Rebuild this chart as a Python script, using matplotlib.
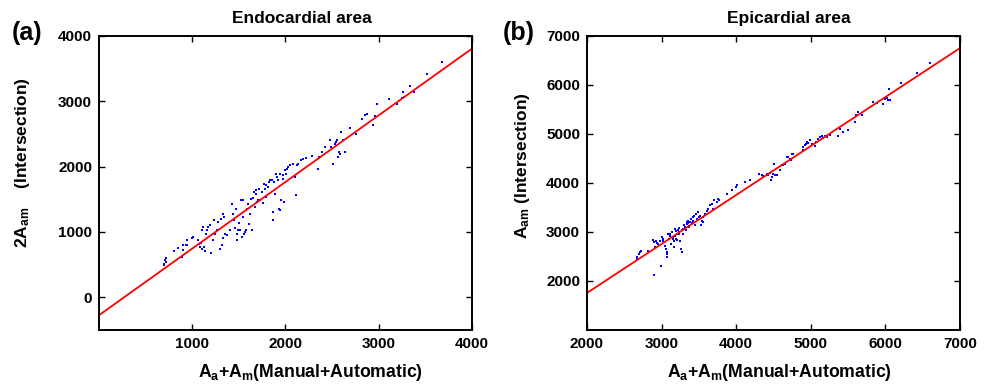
import matplotlib
matplotlib.use("Agg")
import matplotlib.pyplot as plt
import numpy as np

plt.rcParams['font.family'] = ['Liberation Sans', 'DejaVu Sans']
plt.rcParams['font.weight'] = 'bold'
plt.rcParams['mathtext.fontset'] = 'custom'
plt.rcParams['mathtext.rm'] = 'Liberation Sans:bold'
plt.rcParams['mathtext.bf'] = 'Liberation Sans:bold'
plt.rcParams['mathtext.it'] = 'Liberation Sans:bold'
plt.rcParams['mathtext.default'] = 'bf'

# ---- Panel (a): Endocardial area ----
endo_x = [700, 707, 714, 700, 714, 807, 850, 893, 896, 904, 929, 939, 946, 993, 1011,
          1064, 1071, 1082, 1093, 1100, 1107, 1118, 1125, 1136, 1143, 1154, 1171, 1196,
          1189, 1225, 1232, 1243, 1261, 1279, 1296, 1304, 1314, 1325, 1332, 1339, 1350,
          1368, 1404, 1429, 1439, 1450, 1461, 1468, 1475, 1482, 1493, 1504, 1511, 1518,
          1529, 1539, 1546, 1557, 1564, 1575, 1582, 1600, 1611, 1618, 1625, 1636, 1643,
          1654, 1661, 1671, 1682, 1689, 1696, 1707, 1718, 1725, 1743, 1761, 1768, 1779,
          1786, 1796, 1814, 1825, 1839, 1850, 1861, 1868, 1875, 1886, 1896, 1904, 1921,
          1932, 1939, 1946, 1957, 1968, 1975, 1982, 1993, 2004, 2018, 2029, 2046, 2082,
          2100, 2111, 2118, 2136, 2164, 2189, 2218, 2289, 2350, 2354, 2396, 2421, 2475,
          2493, 2511, 2529, 2539, 2554, 2564, 2575, 2589, 2600, 2618, 2636, 2689, 2761,
          2825, 2857, 2879, 2939, 2961, 2982, 3111, 3200, 3254, 3261, 3268, 3332, 3375,
          3521, 3682]
endo_y = [515, 566, 607, 490, 541, 709, 760, 617, 806, 730, 796, 872, 806, 913, 923,
          872, 821, 770, 832, 745, 1026, 1077, 770, 709, 974, 1026, 1077, 684,
          1102, 883, 1179, 974, 1026, 1153, 745, 1204, 796, 1281, 913, 1230, 974,
          949, 1026, 1423, 1281, 1179, 1066, 1357, 872, 974, 1026, 1138, 1026, 1485,
          923, 1495, 1230, 974, 1000, 1026, 1357, 1434, 1128, 1281, 1510, 1026, 1026,
          1526, 1612, 1383, 1587, 1638, 1459, 1485, 1663, 1495, 1612, 1444, 1740, 1663,
          1714, 1536, 1689, 1765, 1801, 1791, 1306, 1179, 1765, 1587, 1893, 1842, 1791,
          1357, 1332, 1893, 1485, 1816, 1867, 1459, 1944, 1893, 1969, 1995, 2020, 2046,
          1842, 1561, 2020, 2046, 2097, 2122, 2138, 2158, 1969, 2148, 2224, 2301, 2403,
          2301, 2036, 2352, 2378, 2403, 2148, 2224, 2189, 2531, 2403, 2224, 2592, 2505,
          2735, 2786, 2811, 2633, 2776, 2954, 3031, 2954, 3056, 3143, 3066, 3230, 3138,
          3423, 3602]
endo_fit = (1.02, -275.0)   # slope, intercept of red line
endo_xticks = [1000, 2000, 3000, 4000]
endo_yticks = [0, 1000, 2000, 3000, 4000]

# ---- Panel (b): Epicardial area ----
epi_x = [2666, 2675, 2710, 2719, 2701, 2822, 2889, 2898, 2911, 2925, 2934, 2956, 2979,
         2987, 3001, 3014, 3023, 2903, 3046, 3059, 3068, 3068, 3077, 3090, 3099, 3113,
         3121, 3135, 3148, 3157, 3166, 3171, 3180, 3188, 3202, 3211, 3224, 3238, 3247,
         3256, 3269, 3282, 3291, 3300, 3314, 3327, 3336, 3345, 3358, 3372, 3381, 3390,
         3403, 3416, 3425, 3434, 3448, 3461, 3470, 3492, 3506, 3515, 3524, 3537, 3550,
         3559, 3582, 3604, 3626, 3649, 3671, 3693, 3702, 3738, 3760, 3774, 3881, 3939,
         3997, 4006, 4118, 4185, 4310, 4341, 4364, 4408, 4431, 4453, 4466, 4475, 4498,
         4507, 4520, 4542, 4587, 4609, 4632, 4654, 4676, 4699, 4721, 4730, 4743, 4757,
         4891, 4900, 4922, 4935, 4944, 4967, 4989, 5011, 5056, 5070, 5101, 5123, 5146,
         5168, 5190, 5213, 5257, 5369, 5391, 5436, 5503, 5592, 5606, 5637, 5682, 5838,
         5883, 5972, 5994, 6017, 6039, 6052, 6061, 6204, 6428, 6598,
         3150, 3185, 3230, 3275, 3320, 3365, 3110, 3195, 3240, 3350]
epi_y = [2450, 2497, 2586, 2606, 2552, 2606, 2838, 2790, 2688, 2811, 2770, 2756, 2811,
         2313, 2892, 2858, 2824, 2129, 2722, 2654, 2586, 2484, 2552, 2960, 2858, 2926,
         2756, 2995, 2858, 2892, 2688, 2824, 3063, 2858, 2960, 2838, 3029, 2995, 2824,
         2654, 2586, 3063, 2960, 3131, 3097, 3029, 3199, 3165, 3233, 3110, 3199, 3267,
         3178, 3301, 3233, 3315, 3151, 3369, 3267, 3403, 3301, 3335, 3151, 3233, 3199,
         3301, 3369, 3437, 3471, 3540, 3560, 3471, 3642, 3608, 3676, 3655, 3778, 3846,
         3914, 3948, 4016, 4050, 4173, 4153, 4132, 4187, 4153, 4200, 4050, 4118, 4187,
         4391, 4153, 4153, 4255, 4357, 4357, 4391, 4527, 4527, 4493, 4459, 4595, 4582,
         4732, 4663, 4766, 4800, 4834, 4813, 4868, 4800, 4745, 4834, 4902, 4936, 4950,
         4922, 4950, 4936, 4970, 4950, 5106, 5038, 5086, 5243, 5379, 5447, 5379, 5651,
         5631, 5617, 5719, 5740, 5699, 5924, 5685, 6040, 6244, 6448,
         2880, 2920, 2960, 3040, 3080, 3130, 2950, 3010, 3090, 3180]
epi_fit = (0.999, -243.0)
epi_xticks = [2000, 3000, 4000, 5000, 6000, 7000]
epi_yticks = [2000, 3000, 4000, 5000, 6000, 7000]

fig = plt.figure(figsize=(9.92, 3.90), dpi=100)
axA = fig.add_axes([0.0998, 0.154, 0.376, 0.754])
axB = fig.add_axes([0.5917, 0.154, 0.376, 0.754])


def style(ax, xlim, ylim, xticks, yticks):
    ax.set_xlim(*xlim)
    ax.set_ylim(*ylim)
    ax.set_xticks(xticks)
    ax.set_yticks(yticks)
    ax.tick_params(direction='in', top=True, right=True, length=4, width=1,
                   labelsize=11, pad=5)
    for lab in ax.get_xticklabels() + ax.get_yticklabels():
        lab.set_fontweight('bold')
    for s in ax.spines.values():
        s.set_linewidth(1.4)


def draw(ax, xs, ys, fit, xlim):
    ax.plot(xs, ys, linestyle='none', marker='s', markersize=2.1,
            color='#0000ff', markeredgewidth=0)
    lx = np.array(xlim, dtype=float)
    ax.plot(lx, fit[0] * lx + fit[1], color='#ff0000', linewidth=1.3)


draw(axA, endo_x, endo_y, endo_fit, (0, 4000))
style(axA, (0, 4000), (-500, 4000), endo_xticks, endo_yticks)
axA.text(0.545, 1.058, 'Endocardial area', transform=axA.transAxes,
         fontsize=12.5, fontweight='bold', ha='center', va='center')
axA.set_xlabel(r'A$_{a}$+A$_{m}$(Manual+Automatic)', fontsize=12.7,
               fontweight='bold')
axA.xaxis.set_label_coords(0.568, -0.146)
axA.xaxis.label.set_va('center')
axA.set_ylabel(r'2A$_{am}$    (Intersection)', fontsize=12.5, fontweight='bold')
axA.yaxis.set_label_coords(-0.206, 0.568)
axA.yaxis.label.set_va('center')

draw(axB, epi_x, epi_y, epi_fit, (2000, 7000))
style(axB, (2000, 7000), (1000, 7000), epi_xticks, epi_yticks)
axB.text(0.542, 1.058, 'Epicardial area', transform=axB.transAxes,
         fontsize=12.5, fontweight='bold', ha='center', va='center')
axB.set_xlabel(r'A$_{a}$+A$_{m}$(Manual+Automatic)', fontsize=12.7,
               fontweight='bold')
axB.xaxis.set_label_coords(0.517, -0.146)
axB.xaxis.label.set_va('center')
axB.set_ylabel(r'A$_{am}$ (Intersection)', fontsize=12.5, fontweight='bold')
axB.yaxis.set_label_coords(-0.172, 0.558)
axB.yaxis.label.set_va('center')

fig.text(0.012, 0.915, '(a)', fontsize=18, fontweight='bold', va='center')
fig.text(0.507, 0.915, '(b)', fontsize=18, fontweight='bold', va='center')

fig.savefig('out.png', dpi=100)
